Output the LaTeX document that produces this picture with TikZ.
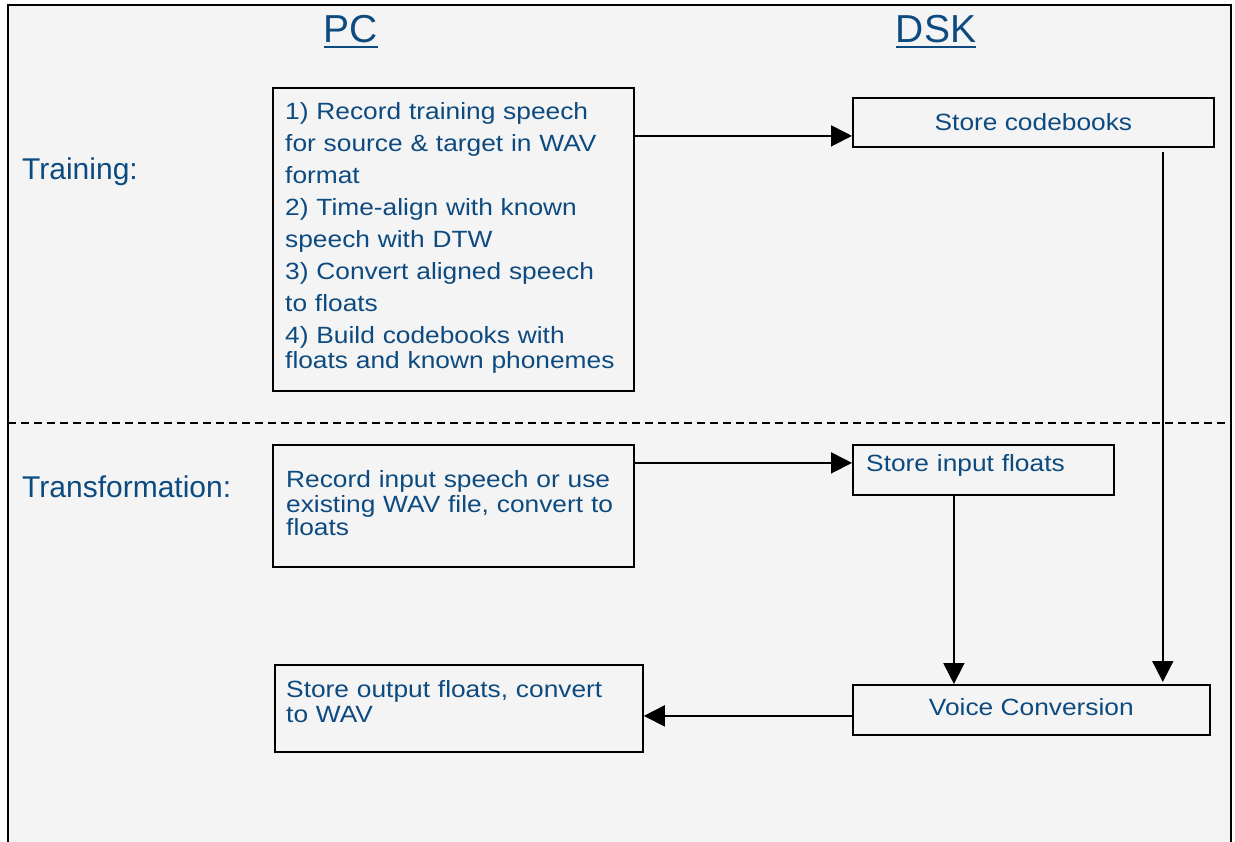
\documentclass[tikz,border=0pt]{standalone}
\usepackage{fontspec}
\setmainfont{Liberation Sans}
\newfontfamily\boxfont[FakeStretch=1.12]{Liberation Sans}
\usetikzlibrary{arrows.meta,positioning}
\definecolor{textblue}{HTML}{0D4A80}
\definecolor{panelgray}{HTML}{F4F4F4}

\tikzset{
  stepbox/.style={draw, line width=1.8pt, inner sep=0pt, anchor=north west},
  boxtext/.style={text=textblue, inner sep=0pt, font=\boxfont\fontsize{23.5}{25}\selectfont},
  listtext/.style={boxtext, align=left, text width=340pt, anchor=base west},
  heading/.style={text=textblue, inner sep=0pt, font=\fontsize{39}{44}\selectfont, anchor=base},
  rowlabel/.style={text=textblue, inner sep=0pt, font=\fontsize{30}{34}\selectfont, anchor=base west},
  link/.style={->, line width=1.8pt},
}

\begin{document}
\begin{tikzpicture}
    [x=1pt, y=-1pt,
     >={Triangle[length=21pt,width=21pt]},  % big filled heads
    ]
\useasboundingbox (0,0) rectangle (1235,842);

% panel
\fill[panelgray] (8,5) rectangle (1231,842);
\draw[line width=2pt] (8,842) -- (8,5) -- (1231,5) -- (1231,842);
\draw[dash pattern=on 8pt off 5pt, line width=1.3pt] (8,423) -- (1231,423);

% column headings and row labels
\node[heading] (pc) at (351,43) {PC};
\node[heading] (dsk) at (936,43) {DSK};
\foreach \h in {pc,dsk}
  \draw[textblue, line width=2pt] ([yshift=-4pt]\h.base west) -- ([yshift=-4pt]\h.base east);
\node[rowlabel] (training) at (22,180) {Training:};
\node[rowlabel] (transform) at (22,497) {Transformation:};

% boxes
\node[stepbox, minimum width=361pt, minimum height=303pt] (trainbox) at (272,87) {};
\node[stepbox, boxtext, minimum width=361pt, minimum height=49pt] (codebox) at (852,97) {Store codebooks};
\node[stepbox, minimum width=361pt, minimum height=122pt] (inbox) at (272,444) {};
\node[stepbox, minimum width=261pt, minimum height=50pt] (floatbox) at (852,444) {};
\node[stepbox, boxtext, minimum width=357pt, minimum height=50pt] (convbox) at (852,684) {Voice Conversion\vphantom{g}};
\node[stepbox, minimum width=368pt, minimum height=87pt] (outbox) at (274,664) {};

% box texts
\node[listtext] (trainbox-txt) at (285,120) {1) Record training speech\\[7pt]
  for source \& target in WAV\\[7pt] format\\[7pt]
  2) Time-align with known\\[7pt] speech with DTW\\[7pt]
  3) Convert aligned speech\\[7pt] to floats\\[7pt]
  4) Build codebooks with\\ floats and known phonemes};
\node[listtext] (inbox-txt) at (286,487) {Record input speech or use\\
  existing WAV file, convert to\\[-2pt] floats};
\node[listtext] (floatbox-txt) at (866,471) {Store input floats};
\node[listtext] (outbox-txt) at (286,697) {Store output floats, convert\\ to WAV};

% connectors
\coordinate (a1) at ([yshift=-13.5pt]codebox.west);
\draw[link] (a1 -| trainbox.east) -- (a1);
\coordinate (a2) at ([yshift=7pt]floatbox.west);
\draw[link] (a2 -| inbox.east) -- (a2);
\coordinate (a3) at ([xshift=-29.5pt]floatbox.south);
\draw[link] (a3) -- (a3 |- convbox.north);
\coordinate (a4) at ([xshift=-52pt,yshift=-4pt]codebox.south east);
\draw[link, shorten >=2pt] (a4) -- (a4 |- convbox.north);
\coordinate (a5) at ([yshift=-6pt]convbox.west);
\draw[link] (a5) -- (a5 -| outbox.east);

\end{tikzpicture}
\end{document}
